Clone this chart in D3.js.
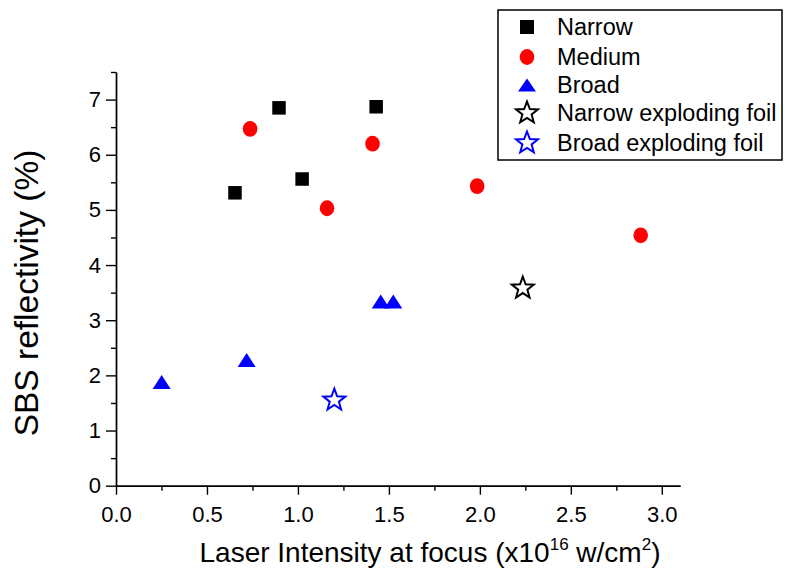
<!DOCTYPE html>
<html>
<head>
<meta charset="utf-8">
<script src="https://cdn.jsdelivr.net/npm/d3@7"></script>
<style>
  body { margin: 0; background: #fff; }
  svg { display: block; font-family: "Liberation Sans", Arial, sans-serif; }
</style>
</head>
<body>
<div id="chart"></div>
<script>
// SBS reflectivity vs laser intensity, by spectral width

const narrowX = [0.654, 0.896, 1.023, 1.43];
const narrowY = [5.31, 6.85, 5.56, 6.87];
const mediumX = [0.737, 1.41, 1.16, 1.985, 2.884];
const mediumY = [6.47, 6.20, 5.03, 5.43, 4.54];
const broadX = [0.251, 0.718, 1.455, 1.524];
const broadY = [1.88, 2.28, 3.34, 3.34];
const narrowFoilX = [2.236];
const narrowFoilY = [3.58];
const broadFoilX = [1.20];
const broadFoilY = [1.55];

const xTicks = [0.0, 0.5, 1.0, 1.5, 2.0, 2.5, 3.0];
const yTicks = [0, 1, 2, 3, 4, 5, 6, 7];

const legendLabels = ['Narrow', 'Medium', 'Broad', 'Narrow exploding foil', 'Broad exploding foil'];

const W = 785, H = 570;
const margin = { left: 116, top: 72, right: 105, bottom: 84.3 };

const svg = d3.select('#chart').append('svg')
  .attr('width', W).attr('height', H);

const x = d3.scaleLinear().domain([0, 3.1]).range([margin.left, W - margin.right]);
const y = d3.scaleLinear().domain([0, 7.5]).range([H - margin.bottom, margin.top]);

// shape helpers
function square(g, s, color) {
  return g.append('rect').attr('x', -s / 2).attr('y', -s / 2).attr('width', s).attr('height', s).attr('fill', color);
}
function circle(g, r, color) {
  return g.append('ellipse').attr('rx', r).attr('ry', r * 1.08).attr('fill', color);
}
function triangle(g, w, h, color) {
  return g.append('path').attr('d', `M0,${-h / 2}L${w / 2},${h / 2}L${-w / 2},${h / 2}Z`).attr('fill', color);
}
function starPath(R, ratio) {
  const pts = [];
  for (let i = 0; i < 10; i++) {
    const r = i % 2 === 0 ? R : R * ratio;
    const a = -Math.PI / 2 + i * Math.PI / 5;
    pts.push([r * Math.cos(a), r * Math.sin(a)]);
  }
  return 'M' + pts.map(p => p.join(',')).join('L') + 'Z';
}
function star(g, R, color) {
  return g.append('path').attr('d', starPath(R, 0.42))
    .attr('fill', 'none').attr('stroke', color).attr('stroke-width', 2).attr('stroke-linejoin', 'miter');
}

// axes
const axisG = svg.append('g');

axisG.append('g')
  .attr('transform', `translate(0,${y(0)})`)
  .call(d3.axisBottom(x).tickValues(xTicks).tickFormat(d3.format('.1f')).tickSize(9).tickSizeOuter(0).tickPadding(12));
axisG.append('g')
  .attr('transform', `translate(0,${y(0)})`)
  .call(d3.axisBottom(x).tickValues(d3.range(0.25, 3.1, 0.5)).tickFormat('').tickSize(5).tickSizeOuter(0));

axisG.append('g')
  .attr('transform', `translate(${x(0)},0)`)
  .call(d3.axisLeft(y).tickValues(yTicks).tickFormat(d3.format('d')).tickSize(10).tickSizeOuter(0).tickPadding(5));
axisG.append('g')
  .attr('transform', `translate(${x(0)},0)`)
  .call(d3.axisLeft(y).tickValues(d3.range(0.5, 7.6, 1)).tickFormat('').tickSize(5).tickSizeOuter(0));

axisG.selectAll('.domain, .tick line').attr('stroke', '#000').attr('stroke-width', 1.4);
axisG.selectAll('.tick text').attr('fill', '#000').attr('font-size', 22)
  .attr('font-family', '"Liberation Sans", Arial, sans-serif');

// axis titles
const xt = svg.append('text')
  .attr('x', 430).attr('y', 562)
  .attr('text-anchor', 'middle')
  .attr('font-size', 28)
  .attr('fill', '#000');
xt.append('tspan').text('Laser Intensity at focus (x10');
xt.append('tspan').attr('font-size', 17).attr('dy', -12).text('16');
xt.append('tspan').attr('dy', 12).text(' w/cm');
xt.append('tspan').attr('font-size', 17).attr('dy', -12).text('2');
xt.append('tspan').attr('dy', 12).text(')');

svg.append('text')
  .attr('transform', `translate(38,293) rotate(-90)`)
  .attr('text-anchor', 'middle')
  .attr('font-size', 33.5)
  .attr('fill', '#000')
  .text('SBS reflectivity (%)');

// data points
const plot = svg.append('g');
const place = (xs, ys) => xs.map((v, i) => plot.append('g').attr('transform', `translate(${x(v)},${y(ys[i])})`));

place(narrowX, narrowY).forEach(g => square(g, 13.5, '#000'));
place(mediumX, mediumY).forEach(g => circle(g, 7.3, '#ff0000'));
place(broadX, broadY).forEach(g => triangle(g, 18, 14, '#0000ff'));
place(narrowFoilX, narrowFoilY).forEach(g => star(g, 11.5, '#000'));
place(broadFoilX, broadFoilY).forEach(g => star(g, 11.5, '#0000ff'));

// legend
const legend = svg.append('g');
legend.append('rect')
  .attr('x', 498).attr('y', 10).attr('width', 284).attr('height', 150)
  .attr('fill', '#fff').attr('stroke', '#000').attr('stroke-width', 1.5);

const rowY = [27, 57, 85, 113, 143];
const drawers = [
  g => square(g, 14, '#000'),
  g => circle(g, 7.3, '#ff0000'),
  g => triangle(g, 18, 13, '#0000ff'),
  g => star(g, 11.5, '#000'),
  g => star(g, 11.5, '#0000ff')
];
legendLabels.forEach((lbl, i) => {
  const g = legend.append('g').attr('transform', `translate(527,${rowY[i]})`);
  drawers[i](g);
  legend.append('text')
    .attr('x', 557).attr('y', rowY[i])
    .attr('dy', '0.36em')
    .attr('font-size', 23.5)
    .attr('fill', '#000')
    .text(lbl);
});
</script>
</body>
</html>
